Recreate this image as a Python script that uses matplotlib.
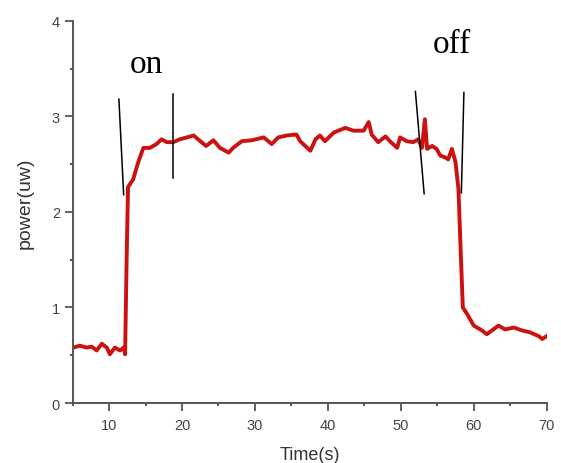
import matplotlib.pyplot as plt
from matplotlib.ticker import MultipleLocator

# power trace
time_s = [5.1, 6.0, 6.9, 7.6, 8.3, 9.0, 9.7, 10.1, 10.8, 11.5, 12.0, 12.2, 12.4, 12.6,
          13.3, 14.0, 14.7, 15.6, 16.5, 17.2, 17.9, 18.8, 19.7, 20.7, 21.6, 22.2, 23.3,
          24.3, 25.2, 26.4, 27.0, 28.2, 29.6, 31.2, 32.3, 33.2, 34.4, 35.7, 36.2, 37.6,
          38.3, 38.9, 39.6, 40.8, 42.4, 43.5, 44.9, 45.6, 46.0, 46.9, 47.9, 48.5, 49.5,
          49.9, 50.8, 51.7, 52.4, 52.9, 53.3, 53.6, 54.3, 54.9, 55.4, 56.1, 56.5, 57.0,
          57.5, 57.9, 58.2, 58.5, 59.1, 60.0, 61.1, 61.8, 62.5, 63.4, 64.3, 65.5, 66.6,
          67.7, 68.9, 69.4, 70.0]
power_uw = [0.58, 0.60, 0.58, 0.59, 0.55, 0.62, 0.58, 0.51, 0.58, 0.55, 0.58, 0.51, 1.47, 2.26,
            2.34, 2.52, 2.67, 2.67, 2.71, 2.76, 2.73, 2.73, 2.76, 2.78, 2.80, 2.76, 2.69,
            2.75, 2.67, 2.62, 2.67, 2.74, 2.75, 2.78, 2.71, 2.78, 2.80, 2.81, 2.74, 2.64,
            2.76, 2.80, 2.74, 2.83, 2.88, 2.85, 2.85, 2.94, 2.81, 2.73, 2.79, 2.74, 2.67,
            2.78, 2.74, 2.73, 2.76, 2.67, 2.97, 2.66, 2.69, 2.66, 2.59, 2.57, 2.55, 2.66,
            2.52, 2.24, 1.61, 1.00, 0.93, 0.81, 0.76, 0.72, 0.76, 0.81, 0.77, 0.79, 0.76,
            0.74, 0.70, 0.67, 0.70]

# hand-drawn marker strokes (x0, x1, y0, y1)
marks = [(11.35, 12.0, 3.18, 2.18),
         (18.8, 18.8, 3.23, 2.36),
         (52.0, 53.2, 3.26, 2.19),
         (58.65, 58.3, 3.25, 2.20)]
labels = [("on", 15.15, 3.46), ("off", 57.0, 3.67)]

fig = plt.figure(figsize=(5.61, 4.64), dpi=100)
ax = fig.add_axes([0.1294, 0.1293, 0.8451, 0.8237])

ax.plot(time_s, power_uw, color="#cc1111", linewidth=2.8, solid_joinstyle="round")
for x0, x1, y0, y1 in marks:
    ax.plot([x0, x1], [y0, y1], color="black", linewidth=1.1)
for txt, x, y in labels:
    ax.text(x, y, txt, family="Liberation Serif", fontsize=24, ha="center", va="baseline")

ax.set_xlim(5, 70)
ax.set_ylim(0, 4)
ax.xaxis.set_major_locator(MultipleLocator(10))
ax.xaxis.set_minor_locator(MultipleLocator(5))
ax.yaxis.set_major_locator(MultipleLocator(1))
ax.yaxis.set_minor_locator(MultipleLocator(0.5))

grey = "#555555"
for side in ["top", "right"]:
    ax.spines[side].set_visible(False)
for side in ["left", "bottom"]:
    ax.spines[side].set_color(grey)
    ax.spines[side].set_linewidth(1.4)
ax.tick_params(which="major", length=5.5, width=1.3, color=grey, labelcolor="#444444",
               labelsize=10.5, labelfontfamily="Liberation Sans")
ax.tick_params(axis="x", which="major", pad=5)
ax.tick_params(axis="y", which="major", pad=3.5)
ax.tick_params(which="minor", length=2, width=1.4, color=grey)

ax.set_xlabel("Time(s)", fontsize=13, color="#333333", family="Liberation Sans", va="center")
ax.set_ylabel("power(uw)", fontsize=14, color="#333333", family="Liberation Sans", va="center")
ax.xaxis.set_label_coords(0.5, -0.1335)
ax.yaxis.set_label_coords(-0.1004, 0.524)

plt.savefig("out.png", dpi=100)
